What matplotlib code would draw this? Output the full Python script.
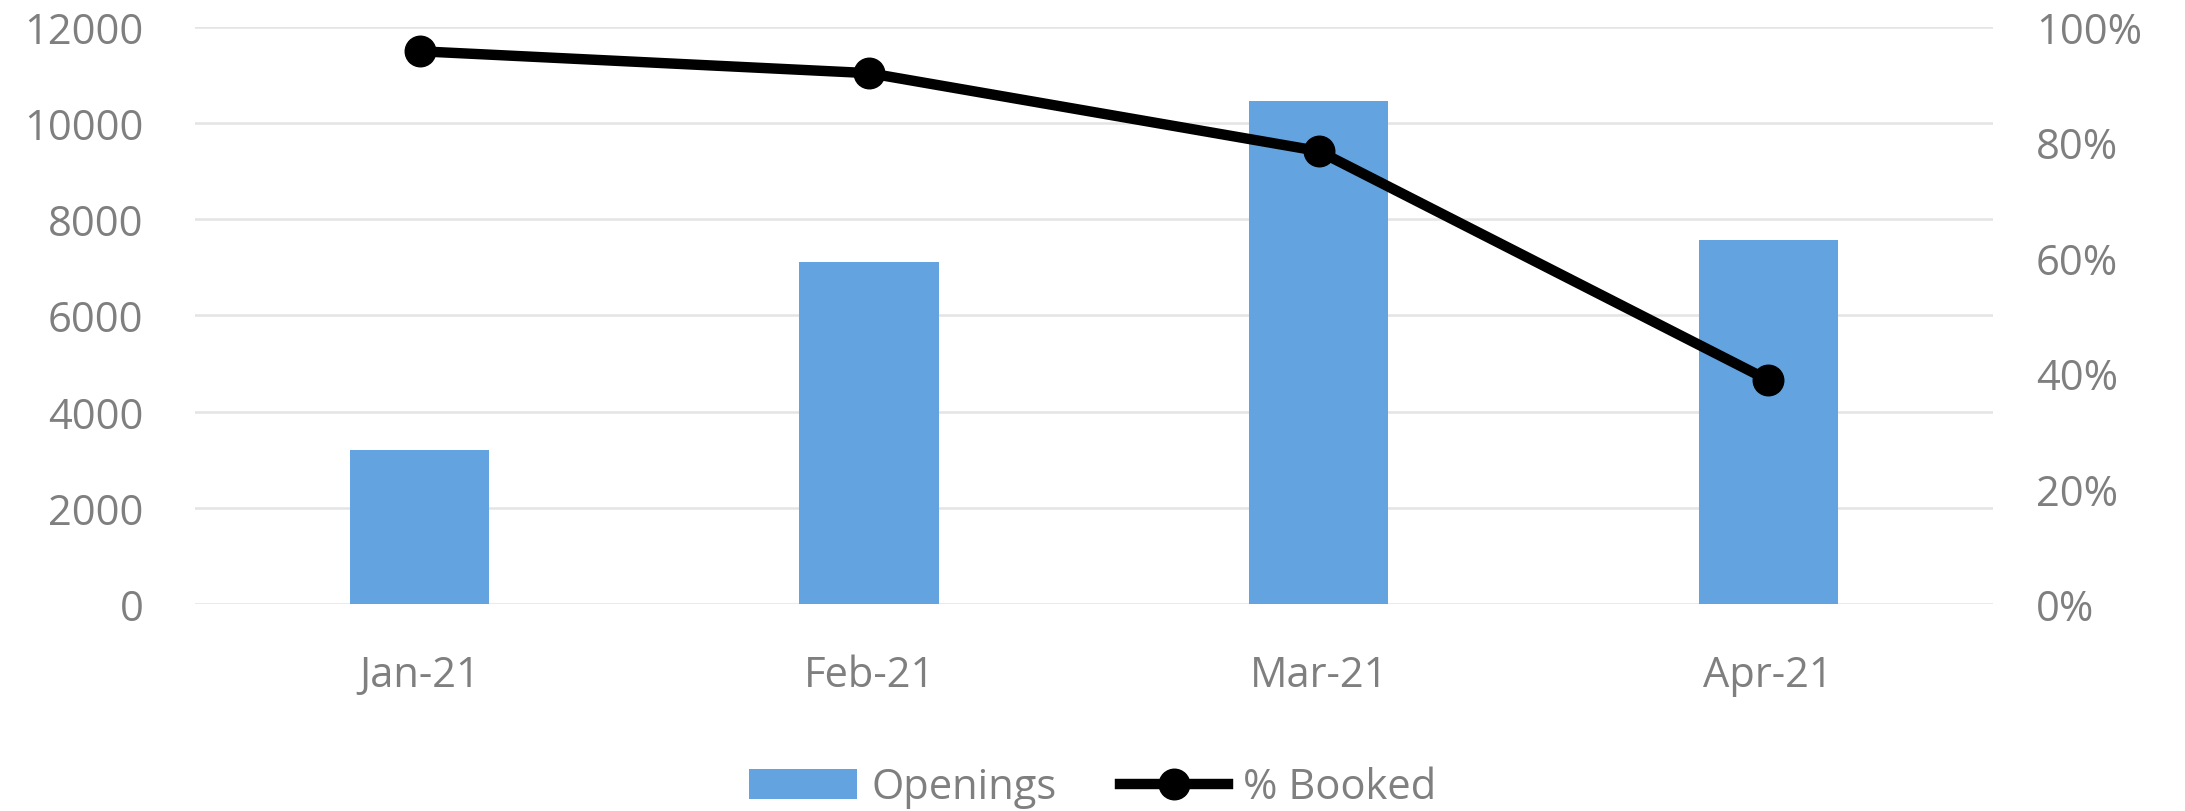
import matplotlib
matplotlib.use("Agg")
import matplotlib.pyplot as plt
from matplotlib import font_manager
from matplotlib.ticker import FuncFormatter

# data
months = ["Jan-21", "Feb-21", "Mar-21", "Apr-21"]
openings = [3200, 7120, 10460, 7580]
pct_booked = [0.958, 0.92, 0.785, 0.388]

bar_color = "#63A4E0"
text_color = "#7F7F7F"
grid_color = "#E4E4E4"

# the original uses a condensed font (Calibri); pick the narrowest one we have
installed = {f.name for f in font_manager.fontManager.ttflist}
if "Liberation Sans Narrow" in installed:
    family, fsize = "Liberation Sans Narrow", 33
else:
    family, fsize = "Open Sans", 30
plt.rcParams["font.family"] = [family, "DejaVu Sans"]
plt.rcParams["font.size"] = fsize

fig = plt.figure(figsize=(21.85, 8.12), dpi=100)
ax = fig.add_axes([0.0892, 0.255, 0.8229, 0.7105])
ax2 = ax.twinx()

x = list(range(len(months)))
bars = ax.bar(x, openings, width=0.31, color=bar_color, zorder=2, label="Openings")
line, = ax2.plot(x, pct_booked, color="black", linewidth=7.5, marker="o",
                 markersize=22, zorder=3, label="% Booked")

ax.set_xlim(-0.5, 3.5)
ax.set_ylim(0, 12000)
ax.set_yticks(range(0, 12001, 2000))
ax2.set_ylim(0, 1)
ax2.set_yticks([0, 0.2, 0.4, 0.6, 0.8, 1.0])
ax2.yaxis.set_major_formatter(FuncFormatter(lambda v, p: f"{v * 100:.0f}%"))

ax.set_xticks(x)
ax.set_xticklabels(months)

ax.grid(axis="y", color=grid_color, linewidth=1.8, zorder=0)
ax.set_axisbelow(True)

for a in (ax, ax2):
    for s in a.spines.values():
        s.set_visible(False)
    a.tick_params(length=0, colors=text_color, labelsize=fsize)

ax.tick_params(axis="y", pad=37)
ax.tick_params(axis="x", pad=36)
ax2.tick_params(axis="y", pad=31)

# keep the line on top of the bars
ax.set_zorder(1)
ax2.set_zorder(2)
ax.patch.set_visible(False)

fig.legend(handles=[bars, line], labels=["Openings", "% Booked"],
           loc="center", bbox_to_anchor=(0.5, 0.029), ncol=2, frameon=False,
           fontsize=fsize, labelcolor=text_color, handlelength=2.6,
           handleheight=0.72, handletextpad=0.35, columnspacing=1.5)

fig.savefig("out.png", dpi=100, facecolor="white")
